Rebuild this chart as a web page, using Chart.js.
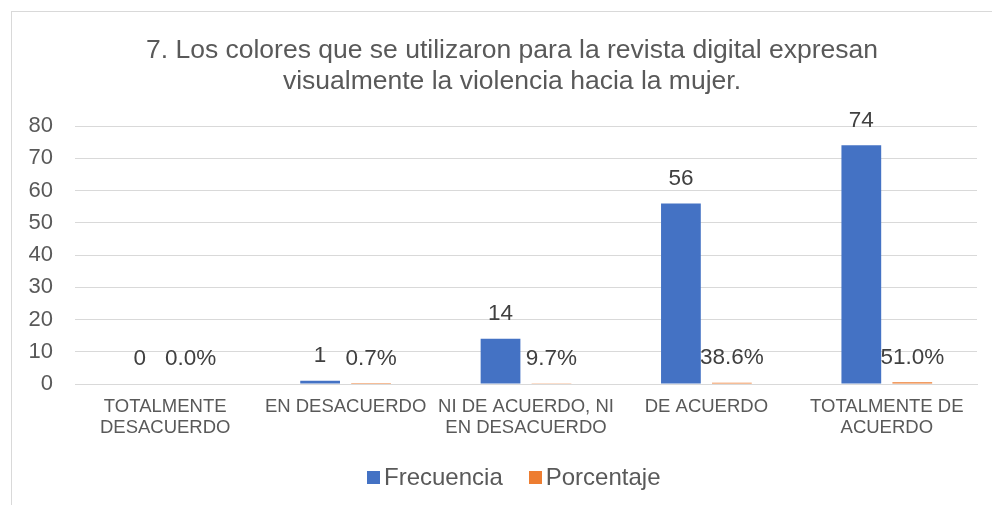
<!DOCTYPE html>
<html>
<head>
<meta charset="utf-8">
<script src="https://cdn.jsdelivr.net/npm/chart.js@4/dist/chart.umd.min.js"></script>
<style>
    html, body { margin: 0; padding: 0; background: #fff; }
    #wrap { position: relative; width: 992px; height: 505px; overflow: hidden;
            font-family: 'Liberation Sans', Arial, sans-serif; color: #595959; }
    #frame {
        position: absolute; left: 11px; top: 11px; width: 1000px; height: 520px;
        border-left: 1px solid #d9d9d9; border-top: 1px solid #d9d9d9;
    }
    canvas { position: absolute; left: 0; top: 0; }
    #title {
        position: absolute; left: 0; top: 34px; width: 1024px;
        text-align: center; font-size: 26.5px; line-height: 31px; white-space: nowrap;
    }
    #legend {
        position: absolute; left: 367px; top: 465px; display: flex;
        font-size: 24px; line-height: 24px;
    }
    #legend .item { display: flex; align-items: center; height: 24px; margin-right: 26px; }
    #legend .box  { width: 13px; height: 13px; margin-right: 4px; }
</style>
</head>
<body>
<div id="wrap">
    <div id="frame"></div>
    <canvas id="chart" width="992" height="505"></canvas>
    <div id="title"></div>
    <div id="legend"></div>
</div>
<script>
// ── Data ─────────────────────────────────────────────────────────────────
var titleLines = ['7. Los colores que se utilizaron para la revista digital expresan',
                  'visualmente la violencia hacia la mujer.'];
var categories = [
    ['TOTALMENTE', 'DESACUERDO'],
    ['EN DESACUERDO'],
    ['NI DE ACUERDO, NI', 'EN DESACUERDO'],
    ['DE ACUERDO'],
    ['TOTALMENTE DE', 'ACUERDO']
];
var frecuencia = [0, 1, 14, 56, 74];
var porcentaje = [0.000, 0.007, 0.097, 0.386, 0.510];
var yTicks     = [0, 10, 20, 30, 40, 50, 60, 70, 80];

var FONT = "'Liberation Sans', Arial, sans-serif";
var GREY = '#595959';

// ── Bar value labels (Excel "outside end") ───────────────────────────────
var valueLabels = {
    id: 'valueLabels',
    afterDatasetsDraw: function(chart) {
        var ctx = chart.ctx;
        ctx.save();
        ctx.font = '22.5px ' + FONT;
        ctx.fillStyle = '#404040';
        ctx.textAlign = 'center';
        ctx.textBaseline = 'middle';
        chart.data.datasets.forEach(function(ds, i) {
            chart.getDatasetMeta(i).data.forEach(function(bar, j) {
                var v = ds.data[j];
                var txt = i === 1 ? (v * 100).toFixed(1) + '%' : String(v);
                ctx.fillText(txt, bar.x, bar.y - 25);
            });
        });
        ctx.restore();
    }
};

var chart = new Chart(document.getElementById('chart'), {
    type: 'bar',
    data: {
        labels: categories,
        datasets: [
            { label: 'Frecuencia', data: frecuencia, backgroundColor: '#4472C4' },
            { label: 'Porcentaje', data: porcentaje, backgroundColor: '#ED7D31' }
        ]
    },
    options: {
        responsive: false,
        animation: false,
        datasets: { bar: { categoryPercentage: 0.565, barPercentage: 0.78 } },
        layout: { padding: { left: 0, right: 15, top: 126, bottom: 48 } },
        plugins: {
            title: { display: false },
            legend: { display: false },
            tooltip: { enabled: false }
        },
        scales: {
            x: {
                grid: { display: false, drawTicks: false },
                border: { color: '#d9d9d9' },
                ticks: {
                    color: GREY,
                    font: { family: FONT, size: 18.5, lineHeight: 1.15 },
                    padding: 12,
                    maxRotation: 0,
                    autoSkip: false
                },
                afterFit: function(s) { s.height = 73; }
            },
            y: {
                min: 0,
                max: 80,
                afterBuildTicks: function(s) {
                    s.ticks = yTicks.map(function(v) { return { value: v }; });
                },
                grid: { color: '#d9d9d9', lineWidth: 1, drawTicks: false },
                border: { display: false },
                ticks: {
                    color: GREY,
                    font: { family: FONT, size: 22 },
                    padding: 22
                },
                afterFit: function(s) { s.width = 75; }
            }
        }
    },
    plugins: [valueLabels]
});

// ── Title & legend (HTML) ────────────────────────────────────────────────
document.getElementById('title').innerHTML = titleLines.join('<br>');

var legendHtml = '';
chart.data.datasets.forEach(function(ds) {
    legendHtml += '<div class="item"><span class="box" style="background:' + ds.backgroundColor +
        '"></span><span>' + ds.label + '</span></div>';
});
document.getElementById('legend').innerHTML = legendHtml;
</script>
</body>
</html>
